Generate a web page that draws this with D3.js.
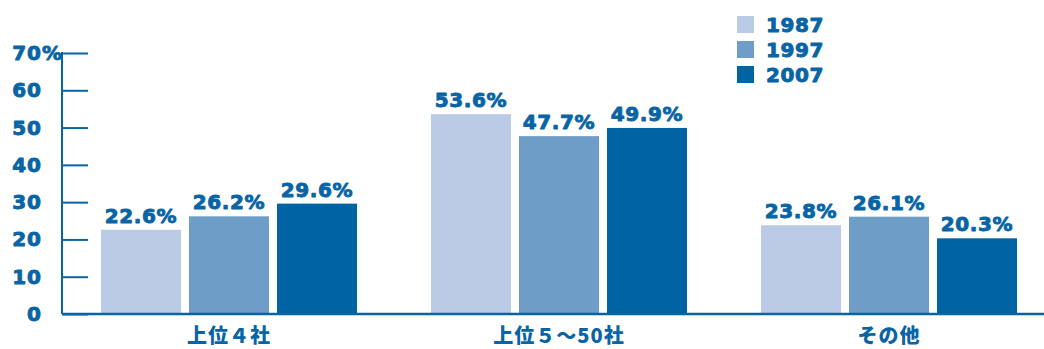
<!DOCTYPE html>
<html>
<head>
<meta charset="utf-8">
<script src="https://cdn.jsdelivr.net/npm/d3@7/dist/d3.min.js"></script>
<style>
  html, body { margin: 0; padding: 0; background: #fff; }
  svg { display: block; }
  .num { font-family: "DejaVu Sans", sans-serif; font-weight: bold; fill: #0864a4; stroke: #0864a4; stroke-width: 0.9; stroke-linejoin: round; }
  .cat { font-family: "Noto Sans CJK JP", sans-serif; font-weight: 900; fill: #0864a4; }
</style>
</head>
<body>
<svg id="chart" width="1044" height="349"></svg>
<script>
// Share by company group, three survey years
const categories = ["上位４社", "上位５～50社", "その他"];
const years = ["1987", "1997", "2007"];
const values1987 = [22.6, 53.6, 23.8];
const values1997 = [26.2, 47.7, 26.1];
const values2007 = [29.6, 49.9, 20.3];
const yTicks = [0, 10, 20, 30, 40, 50, 60, 70];
const colors = ["#bccbe5", "#6e9dc8", "#0063a4"];

const seriesValues = [values1987, values1997, values2007];
const ink = "#0864a4";

const svg = d3.select("#chart");
const axisX = 62;

const y = d3.scaleLinear().domain([0, 70]).range([314, 53]);

const x0 = d3.scaleBand()
  .domain(categories)
  .range([64, 1054])
  .paddingInner(0.2)
  .paddingOuter(0.1);

const x1 = d3.scaleBand()
  .domain(years)
  .range([0, x0.bandwidth()])
  .paddingInner(8 / 88)
  .paddingOuter(4 / 88);

const color = d3.scaleOrdinal().domain(years).range(colors);

// Bars
const groups = svg.append("g").selectAll("g")
  .data(categories)
  .join("g")
  .attr("transform", d => `translate(${x0(d)},0)`);

groups.selectAll("rect")
  .data((c, i) => years.map((yr, s) => ({ yr, v: seriesValues[s][i] })))
  .join("rect")
  .attr("x", d => x1(d.yr))
  .attr("width", x1.bandwidth())
  .attr("y", d => y(d.v))
  .attr("height", d => y(0) - y(d.v))
  .attr("fill", d => color(d.yr));

groups.selectAll("text")
  .data((c, i) => years.map((yr, s) => ({ yr, v: seriesValues[s][i] })))
  .join("text")
  .attr("class", "num")
  .attr("x", d => x1(d.yr) + x1.bandwidth() / 2)
  .attr("y", d => y(d.v) - 7)
  .attr("text-anchor", "middle")
  .attr("font-size", 20)
  .attr("letter-spacing", 0.6)
  .text(d => d.v.toFixed(1) + "%");

// Y axis: line, inward ticks, labels
const yAxis = d3.axisRight(y)
  .tickValues(yTicks)
  .tickSize(26)
  .tickFormat("");

const yg = svg.append("g")
  .attr("transform", `translate(${axisX},0)`)
  .call(yAxis);
yg.select(".domain").remove();
yg.selectAll(".tick line").attr("stroke", ink).attr("stroke-width", 2);

svg.append("line")
  .attr("x1", axisX).attr("x2", axisX)
  .attr("y1", y(70) - 1).attr("y2", y(0))
  .attr("stroke", ink).attr("stroke-width", 2);

const labels = svg.append("g").selectAll("text")
  .data(yTicks)
  .join("text")
  .attr("class", "num")
  .attr("font-size", 20)
  .attr("letter-spacing", 1)
  .attr("x", 42)
  .attr("y", d => y(d) + 7)
  .attr("text-anchor", "end")
  .text(d => d);

// Top label carries the unit, hanging past the number column
labels.filter(d => d === 70).each(function () {
  const t = d3.select(this);
  const w = this.getComputedTextLength();
  t.attr("text-anchor", "start").attr("x", 42 - w);
  t.append("tspan").attr("letter-spacing", 0).text("%");
});

// X baseline
svg.append("line")
  .attr("x1", axisX).attr("x2", 1044)
  .attr("y1", y(0)).attr("y2", y(0))
  .attr("stroke", ink).attr("stroke-width", 2.5);

// Category labels
svg.append("g").selectAll("text")
  .data(categories)
  .join("text")
  .attr("class", "cat")
  .attr("x", d => x0(d) + x0.bandwidth() / 2)
  .attr("y", 343)
  .attr("text-anchor", "middle")
  .attr("font-size", 20)
  .attr("letter-spacing", 1)
  .text(d => d);

// Legend
const legend = svg.append("g").selectAll("g")
  .data(years)
  .join("g")
  .attr("transform", (d, i) => `translate(737,${16 + i * 25})`);

legend.append("rect")
  .attr("width", 17).attr("height", 17)
  .attr("fill", d => color(d));

legend.append("text")
  .attr("class", "num")
  .attr("x", 29)
  .attr("y", 15.5)
  .attr("font-size", 20)
  .attr("letter-spacing", 0.6)
  .text(d => d);
</script>
</body>
</html>
